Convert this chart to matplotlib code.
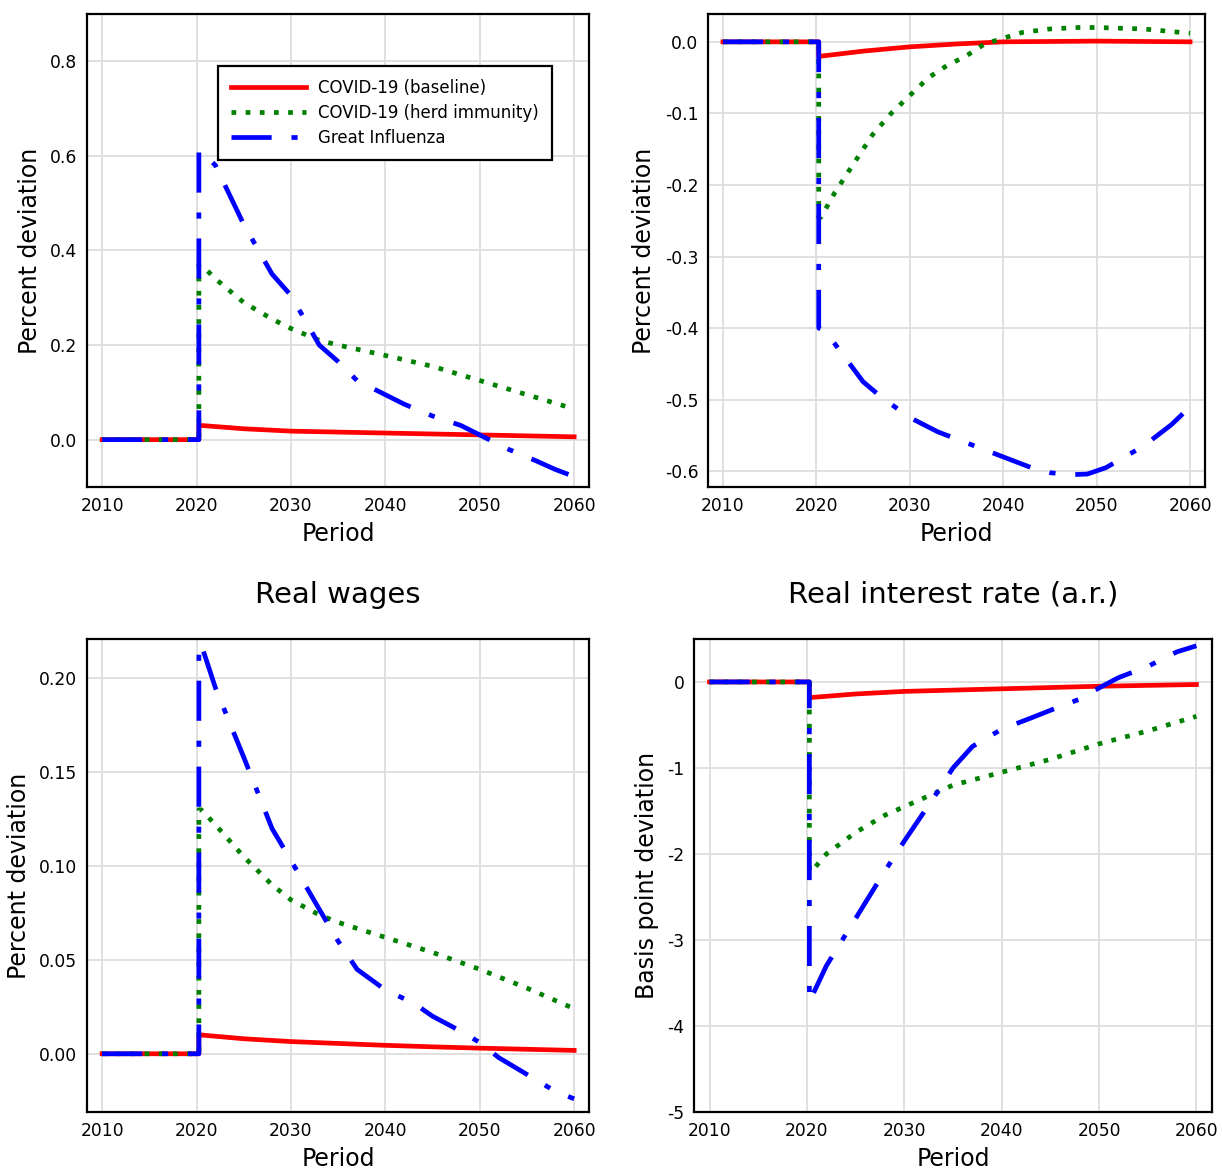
import numpy as np
import matplotlib.pyplot as plt

plt.rcParams['font.family'] = 'DejaVu Sans'
plt.rcParams['axes.unicode_minus'] = False

labels = ["COVID-19 (baseline)", "COVID-19 (herd immunity)", "Great Influenza"]

# pre-shock periods (all series zero)
pre_x = [2010, 2020.25]

# top-left panel
tl_red_x = [2020.25, 2020.5, 2025, 2030, 2035, 2040, 2045, 2050, 2055, 2060]
tl_red_y = [0.030, 0.030, 0.023, 0.018, 0.016, 0.014, 0.012, 0.010, 0.008, 0.006]
tl_green_x = [2020.25, 2020.5, 2022, 2025, 2028, 2030, 2033, 2035, 2040, 2045, 2050, 2055, 2060]
tl_green_y = [0.37, 0.37, 0.34, 0.29, 0.255, 0.235, 0.21, 0.20, 0.178, 0.155, 0.125, 0.095, 0.065]
tl_blue_x = [2020.25, 2020.5, 2022, 2025, 2028, 2030, 2033, 2035, 2037, 2040, 2042, 2045, 2048, 2050, 2053, 2056, 2058, 2060]
tl_blue_y = [0.61, 0.61, 0.58, 0.455, 0.35, 0.305, 0.20, 0.165, 0.125, 0.095, 0.075, 0.05, 0.03, 0.01, -0.02, -0.045, -0.063, -0.078]

# top-right panel
tr_red_x = [2020.25, 2020.5, 2025, 2030, 2035, 2040, 2050, 2060]
tr_red_y = [-0.020, -0.020, -0.013, -0.007, -0.003, 0.0, 0.001, 0.0]
tr_green_x = [2020.25, 2020.5, 2022, 2024, 2026, 2028, 2030, 2032, 2034, 2036, 2038, 2040, 2042, 2045, 2048, 2050, 2055, 2060]
tr_green_y = [-0.245, -0.245, -0.21, -0.17, -0.13, -0.10, -0.075, -0.05, -0.033, -0.02, -0.003, 0.005, 0.013, 0.018, 0.02, 0.02, 0.018, 0.012]
tr_blue_x = [2020.25, 2021, 2023, 2025, 2027, 2030, 2033, 2035, 2038, 2040, 2043, 2045, 2047, 2049, 2051, 2053, 2055, 2058, 2060]
tr_blue_y = [-0.40, -0.405, -0.44, -0.475, -0.497, -0.525, -0.545, -0.555, -0.57, -0.58, -0.595, -0.602, -0.605, -0.604, -0.595, -0.58, -0.565, -0.535, -0.51]

# real wages
wg_red_x = [2020.25, 2020.5, 2025, 2030, 2035, 2040, 2045, 2050, 2055, 2060]
wg_red_y = [0.010, 0.010, 0.008, 0.0065, 0.0055, 0.0045, 0.0037, 0.003, 0.0024, 0.0018]
wg_green_x = [2020.25, 2020.5, 2022, 2025, 2028, 2030, 2033, 2035, 2040, 2045, 2050, 2055, 2060]
wg_green_y = [0.13, 0.13, 0.122, 0.105, 0.09, 0.082, 0.074, 0.070, 0.062, 0.054, 0.045, 0.035, 0.024]
wg_blue_x = [2020.25, 2020.5, 2022, 2025, 2028, 2030, 2033, 2035, 2037, 2040, 2043, 2045, 2048, 2050, 2052, 2055, 2058, 2060]
wg_blue_y = [0.218, 0.218, 0.195, 0.158, 0.12, 0.103, 0.077, 0.060, 0.045, 0.034, 0.027, 0.020, 0.012, 0.006, -0.002, -0.011, -0.020, -0.024]

# real interest rate
ir_red_x = [2020.25, 2020.5, 2025, 2030, 2035, 2040, 2045, 2050, 2055, 2060]
ir_red_y = [-0.18, -0.18, -0.14, -0.11, -0.095, -0.08, -0.065, -0.05, -0.04, -0.03]
ir_green_x = [2020.25, 2020.5, 2022, 2025, 2028, 2030, 2033, 2035, 2040, 2045, 2050, 2055, 2060]
ir_green_y = [-2.2, -2.2, -2.0, -1.75, -1.55, -1.45, -1.3, -1.2, -1.05, -0.9, -0.72, -0.57, -0.4]
ir_blue_x = [2020.25, 2022, 2025, 2028, 2030, 2033, 2035, 2037, 2040, 2043, 2045, 2048, 2050, 2052, 2055, 2058, 2060]
ir_blue_y = [-3.72, -3.3, -2.75, -2.2, -1.85, -1.35, -1.0, -0.75, -0.55, -0.42, -0.33, -0.2, -0.07, 0.05, 0.18, 0.35, 0.42]

panels = [
    dict(pos=[0.0712, 0.5838, 0.411, 0.4043], ylim=(-0.1, 0.9), yticks=[0.0, 0.2, 0.4, 0.6, 0.8], fmt="%.1f",
         ylabel="Percent deviation", title=None,
         data=[(tl_red_x, tl_red_y), (tl_green_x, tl_green_y), (tl_blue_x, tl_blue_y)]),
    dict(pos=[0.5794, 0.5838, 0.4067, 0.4043], ylim=(-0.622, 0.039), yticks=[-0.6, -0.5, -0.4, -0.3, -0.2, -0.1, 0.0], fmt="%.1f",
         ylabel="Percent deviation", title=None,
         data=[(tr_red_x, tr_red_y), (tr_green_x, tr_green_y), (tr_blue_x, tr_blue_y)]),
    dict(pos=[0.0712, 0.0496, 0.411, 0.4043], ylim=(-0.031, 0.221), yticks=[0.0, 0.05, 0.10, 0.15, 0.20], fmt="%.2f",
         ylabel="Percent deviation", title="Real wages",
         data=[(wg_red_x, wg_red_y), (wg_green_x, wg_green_y), (wg_blue_x, wg_blue_y)]),
    dict(pos=[0.5679, 0.0496, 0.4239, 0.4043], ylim=(-5, 0.5), yticks=[-5, -4, -3, -2, -1, 0], fmt="%d",
         ylabel="Basis point deviation", title="Real interest rate (a.r.)",
         data=[(ir_red_x, ir_red_y), (ir_green_x, ir_green_y), (ir_blue_x, ir_blue_y)]),
]

colors = ["red", "green", "blue"]
styles = ["-", (0, (1, 2)), (0, (8.5, 4.2, 1.3, 4.2))]

fig = plt.figure(figsize=(12.22, 11.7), dpi=100)

for i, p in enumerate(panels):
    ax = fig.add_axes(p["pos"])
    for (xs, ys), c, ls, lab in zip(p["data"], colors, styles, labels):
        x = pre_x + xs
        y = [0, 0] + ys
        ax.plot(x, y, color=c, linestyle=ls, lw=3.4, label=lab)
    ax.set_xlim(2008.4, 2061.6)
    ax.set_ylim(*p["ylim"])
    ax.set_xticks([2010, 2020, 2030, 2040, 2050, 2060])
    ax.set_yticks(p["yticks"])
    ax.set_yticklabels([p["fmt"] % v for v in p["yticks"]])
    ax.tick_params(length=0, labelsize=12.3, pad=7)
    ax.grid(True, color="#dddddd", lw=1.3)
    for s in ax.spines.values():
        s.set_linewidth(1.6)
    ax.set_xlabel("Period", fontsize=17, labelpad=5)
    ax.set_ylabel(p["ylabel"], fontsize=17, labelpad=6)
    if p["title"]:
        ax.set_title(p["title"], fontsize=21, pad=26)
    if i == 0:
        leg = ax.legend(loc="upper right", bbox_to_anchor=(0.926, 0.890), fontsize=12,
                        fancybox=False, framealpha=1, edgecolor="black", handlelength=4.5,
                        handletextpad=0.7, borderpad=0.8, labelspacing=0.4, borderaxespad=0)
        leg.get_frame().set_linewidth(1.6)

fig.savefig("out.png", dpi=100)
